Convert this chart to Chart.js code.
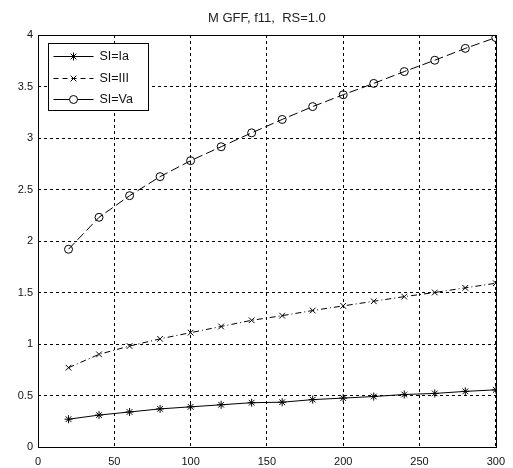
<!DOCTYPE html>
<html>
<head>
<meta charset="utf-8">
<script src="https://cdn.jsdelivr.net/npm/chart.js@4"></script>
<style>
  html, body { margin: 0; padding: 0; background: #fff; }
  canvas { display: block; }
</style>
</head>
<body>
<canvas id="chart" width="513" height="468"></canvas>
<script>
// sample sizes on the x axis
const xValues = [20, 40, 60, 80, 100, 120, 140, 160, 180, 200, 220, 240, 260, 280, 300];

// one series per SI class
const siIa  = [0.27, 0.31, 0.34, 0.37, 0.39, 0.41, 0.43, 0.435, 0.46, 0.475, 0.49, 0.51, 0.52, 0.54, 0.555];
const siIII = [0.77, 0.90, 0.98, 1.05, 1.11, 1.17, 1.23, 1.275, 1.325, 1.37, 1.415, 1.46, 1.50, 1.545, 1.59];
const siVa  = [1.92, 2.23, 2.44, 2.625, 2.78, 2.915, 3.05, 3.18, 3.305, 3.42, 3.53, 3.645, 3.755, 3.87, 3.975];

const seriesLabels = ['SI=Ia', 'SI=III', 'SI=Va'];
const titleText = 'M GFF, f11,  RS=1.0';

const FONT = '"Liberation Sans", Arial, Helvetica, sans-serif';

const toPoints = (ys) => xValues.map((x, i) => ({ x: x, y: ys[i] }));

// legend sample dashes (the plotted Va line is broken up, its legend sample is not)
const legendDash = [[], [5, 4], []];

// boxed legend in the upper left corner of the axes
const boxLegend = {
  id: 'boxLegend',
  afterDatasetsDraw(chart) {
    const ctx = chart.ctx;
    const left = chart.chartArea.left + 10.5;
    const top = chart.chartArea.top + 8.5;
    const w = 100, h = 67;
    ctx.save();
    ctx.fillStyle = '#fff';
    ctx.strokeStyle = '#000';
    ctx.lineWidth = 1;
    ctx.fillRect(left, top, w, h);
    ctx.strokeRect(left, top, w, h);
    ctx.font = '12.5px ' + FONT;
    ctx.textBaseline = 'middle';
    ctx.textAlign = 'left';
    chart.data.datasets.forEach((ds, i) => {
      const y = Math.round(top + 12.5 + i * 21.5) + 0.5;
      ctx.save();
      ctx.strokeStyle = '#000';
      ctx.lineWidth = 1;
      ctx.setLineDash(legendDash[i]);
      ctx.beginPath();
      ctx.moveTo(left + 5, y);
      ctx.lineTo(left + 45, y);
      ctx.stroke();
      ctx.setLineDash([]);
      // hollow markers, same as on the curves
      ctx.fillStyle = '#fff';
      Chart.helpers.drawPoint(ctx, {
        pointStyle: ds.pointStyle,
        radius: ds.pointRadius,
        rotation: 0,
        borderWidth: 1
      }, left + 25, y);
      ctx.restore();
      ctx.fillStyle = '#111';
      ctx.fillText(ds.label, left + 51, y);
    });
    ctx.restore();
  }
};

// solid box around the axes
const axesFrame = {
  id: 'axesFrame',
  afterDraw(chart) {
    const a = chart.chartArea;
    const ctx = chart.ctx;
    ctx.save();
    ctx.strokeStyle = '#000';
    ctx.lineWidth = 1;
    ctx.setLineDash([]);
    ctx.strokeRect(Math.round(a.left) + 0.5, Math.round(a.top) + 0.5,
                   Math.round(a.right - a.left), Math.round(a.bottom - a.top));
    ctx.restore();
  }
};

new Chart(document.getElementById('chart'), {
  type: 'line',
  data: {
    datasets: [
      {
        label: seriesLabels[0],
        data: toPoints(siIa),
        borderColor: '#000',
        borderWidth: 1,
        pointStyle: 'star',
        pointRadius: 4,
        pointBorderColor: '#000',
        pointBackgroundColor: 'rgba(0,0,0,0)',
        pointBorderWidth: 1,
        tension: 0
      },
      {
        label: seriesLabels[1],
        data: toPoints(siIII),
        borderColor: '#000',
        borderWidth: 1,
        borderDash: [6, 3, 1, 3],
        pointStyle: 'crossRot',
        pointRadius: 4,
        pointBorderColor: '#000',
        pointBackgroundColor: 'rgba(0,0,0,0)',
        pointBorderWidth: 1,
        tension: 0
      },
      {
        label: seriesLabels[2],
        data: toPoints(siVa),
        borderColor: '#000',
        borderWidth: 1,
        borderDash: [9, 4],
        pointStyle: 'circle',
        pointRadius: 4,
        pointBorderColor: '#000',
        pointBackgroundColor: 'rgba(0,0,0,0)',
        pointBorderWidth: 1,
        tension: 0
      }
    ]
  },
  options: {
    responsive: false,
    animation: false,
    layout: { padding: { left: 0, right: 17, top: 0, bottom: 0 } },
    plugins: {
      legend: { display: false },
      tooltip: { enabled: false },
      title: {
        display: true,
        text: titleText,
        fullSize: false,
        color: '#222',
        font: { family: FONT, size: 13, weight: 'normal' },
        padding: { top: 11, bottom: 8.4 }
      }
    },
    scales: {
      x: {
        type: 'linear',
        min: 0,
        max: 300,
        ticks: { stepSize: 50, color: '#111', padding: 8, font: { family: FONT, size: 11 } },
        grid: { color: '#000', lineWidth: 1, drawTicks: false },
        border: { display: false, dash: [3, 3] },
        afterFit(scale) { scale.height = 21; }
      },
      y: {
        min: 0,
        max: 4,
        ticks: {
          stepSize: 0.5,
          color: '#111',
          padding: 5,
          font: { family: FONT, size: 11 },
          callback: (v) => String(v)
        },
        grid: { color: '#000', lineWidth: 1, drawTicks: false },
        border: { display: false, dash: [3, 3] },
        afterFit(scale) { scale.width = 38; }
      }
    }
  },
  plugins: [axesFrame, boxLegend]
});
</script>
</body>
</html>
